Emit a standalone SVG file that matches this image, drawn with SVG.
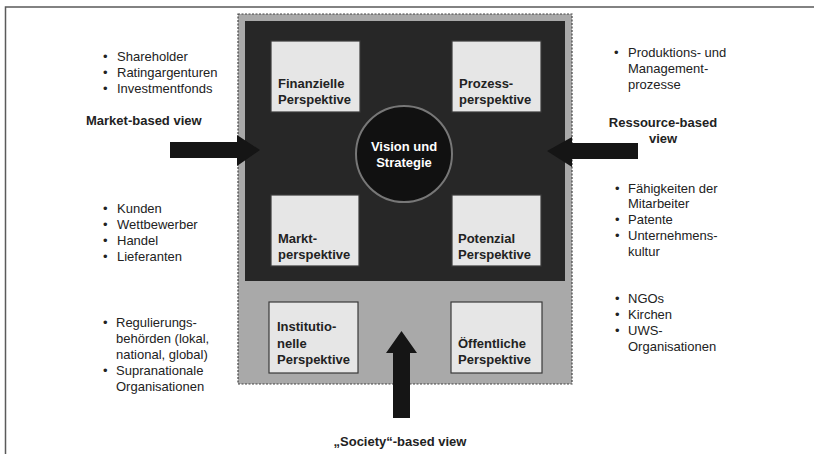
<svg xmlns="http://www.w3.org/2000/svg" width="814" height="454" viewBox="0 0 814 454">
  <style>
    text { font-family: "Liberation Sans", Arial, sans-serif; font-size: 13px; fill: #222; }
    .b { font-weight: bold; }
    .w { fill: #ffffff; font-weight: bold; }
    .box { fill: #e6e6e6; stroke: #3a3a3a; stroke-width: 1.2; }
    .arrow { fill: #151515; }
    .bullet { fill: #222; }
  </style>
  <rect width="814" height="454" fill="#ffffff"/>
  <!-- frame -->
  <path d="M5.5 454 V7 H814" fill="none" stroke="#5a5a5a" stroke-width="1.5"/>

  <g id="society-area">
    <rect x="238" y="14" width="334" height="370" fill="#a9a9a9" stroke="#444" stroke-width="1.2" stroke-dasharray="2 1.5"/>
  </g>
  <g id="core-area">
    <rect x="245" y="21" width="320" height="260" fill="#272727"/>
  </g>

  <g id="finanzielle">
    <rect class="box" x="271" y="41" width="89" height="71"/>
    <text class="b" x="278" y="88">Finanzielle</text>
    <text class="b" x="278" y="104">Perspektive</text>
  </g>
  <g id="prozess">
    <rect class="box" x="452" y="41" width="89" height="71"/>
    <text class="b" x="459" y="88">Prozess-</text>
    <text class="b" x="459" y="104">perspektive</text>
  </g>
  <g id="markt">
    <rect class="box" x="271" y="195" width="88" height="71"/>
    <text class="b" x="278" y="243">Markt-</text>
    <text class="b" x="278" y="259">perspektive</text>
  </g>
  <g id="potenzial">
    <rect class="box" x="452" y="195" width="89" height="71"/>
    <text class="b" x="458" y="243">Potenzial</text>
    <text class="b" x="458" y="259">Perspektive</text>
  </g>
  <g id="institutionelle">
    <rect class="box" x="269" y="302" width="89" height="71"/>
    <text class="b" x="277" y="331">Institutio-</text>
    <text class="b" x="277" y="348">nelle</text>
    <text class="b" x="277" y="364">Perspektive</text>
  </g>
  <g id="oeffentliche">
    <rect class="box" x="451" y="302" width="91" height="71"/>
    <text class="b" x="458" y="348">Öffentliche</text>
    <text class="b" x="458" y="364">Perspektive</text>
  </g>
  <g id="vision">
    <circle cx="404" cy="154" r="48" fill="#111" stroke="#777" stroke-width="2"/>
    <text class="w" x="404" y="151" text-anchor="middle">Vision und</text>
    <text class="w" x="404" y="167" text-anchor="middle">Strategie</text>
  </g>

  <g id="connectors">
    <polygon class="arrow" points="170,142 237,142 237,135 260,150 237,166 237,158 170,158"/>
    <polygon class="arrow" points="638,143 572,143 572,137 547,151 572,167 572,159 638,159"/>
    <polygon class="arrow" points="393,418 393,353 386,353 401.5,331 417,353 410,353 410,418"/>
  </g>

  <g id="market-view">
    <text class="b" x="86" y="125">Market-based view</text>
  </g>
  <g id="resource-view">
    <text class="b" x="663" y="127" text-anchor="middle">Ressource-based</text>
    <text class="b" x="663" y="143" text-anchor="middle">view</text>
  </g>
  <g id="society-view">
    <text class="b" x="400" y="446" text-anchor="middle">„Society“-based view</text>
  </g>

  <g id="list-left-top">
    <text x="103" y="61">•</text><text x="117" y="61">Shareholder</text>
    <text x="103" y="77">•</text><text x="117" y="77">Ratingargenturen</text>
    <text x="103" y="93">•</text><text x="117" y="93">Investmentfonds</text>
  </g>
  <g id="list-left-mid">
    <text x="103" y="213">•</text><text x="117" y="213">Kunden</text>
    <text x="103" y="229">•</text><text x="117" y="229">Wettbewerber</text>
    <text x="103" y="245">•</text><text x="117" y="245">Handel</text>
    <text x="103" y="261">•</text><text x="117" y="261">Lieferanten</text>
  </g>
  <g id="list-left-bottom">
    <text x="103" y="327">•</text><text x="116" y="327">Regulierungs-</text>
    <text x="116" y="343">behörden (lokal,</text>
    <text x="116" y="359">national, global)</text>
    <text x="103" y="375">•</text><text x="116" y="375">Supranationale</text>
    <text x="116" y="391">Organisationen</text>
  </g>
  <g id="list-right-top">
    <text x="614" y="57">•</text><text x="628" y="57">Produktions- und</text>
    <text x="628" y="73">Management-</text>
    <text x="628" y="89">prozesse</text>
  </g>
  <g id="list-right-mid">
    <text x="615" y="193">•</text><text x="628" y="193">Fähigkeiten der</text>
    <text x="628" y="208">Mitarbeiter</text>
    <text x="615" y="224">•</text><text x="628" y="224">Patente</text>
    <text x="615" y="240">•</text><text x="628" y="240">Unternehmens-</text>
    <text x="628" y="256">kultur</text>
  </g>
  <g id="list-right-bottom">
    <text x="615" y="303">•</text><text x="628" y="303">NGOs</text>
    <text x="615" y="319">•</text><text x="628" y="319">Kirchen</text>
    <text x="615" y="335">•</text><text x="628" y="335">UWS-</text>
    <text x="628" y="351">Organisationen</text>
  </g>
</svg>
